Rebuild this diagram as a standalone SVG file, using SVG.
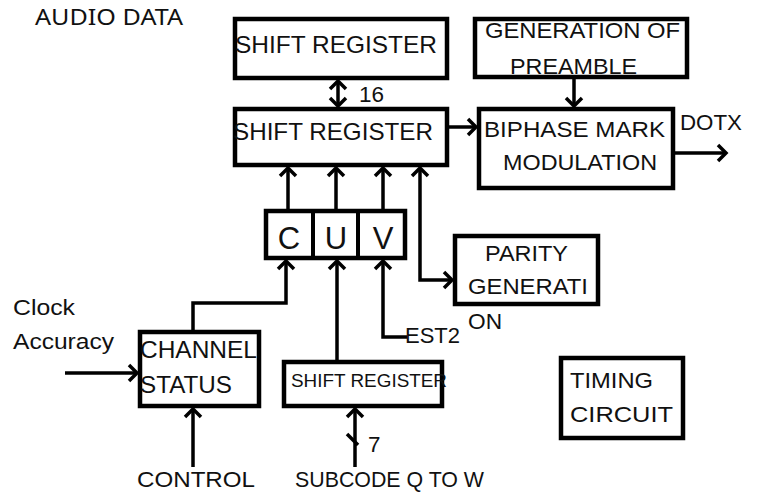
<svg xmlns="http://www.w3.org/2000/svg" width="760" height="495" viewBox="0 0 760 495">
<style>
  .box { fill: #fff; stroke: #000; stroke-width: 4.5; }
  .t { font-family: "Liberation Sans", Arial, sans-serif; font-size: 22.5px; fill: #111; }
  .big { font-size: 24px; }
  .cuv { font-size: 31px; text-anchor: middle; }
  .w { stroke: #000; stroke-width: 3.5; fill: none; }
</style>
<defs>
  <marker id="ah" markerUnits="userSpaceOnUse" viewBox="-12 -12 24 24" markerWidth="24" markerHeight="24" refX="0" refY="0" orient="auto-start-reverse">
    <path d="M-8,-8 L0,0 L-8,8" fill="none" stroke="#000" stroke-width="3.5"/>
  </marker>
</defs>
<rect width="760" height="495" fill="#fff"/>

<text class="t" x="35" y="25" textLength="148" lengthAdjust="spacingAndGlyphs" style="font-family:'Noto Sans','DejaVu Sans',sans-serif;font-size:21px">AUDIO DATA</text>

<g id="connectors">
  <line class="w" x1="338" y1="81" x2="338" y2="106" marker-start="url(#ah)" marker-end="url(#ah)"/>
  <line class="w" x1="449" y1="127" x2="476" y2="127" marker-end="url(#ah)"/>
  <line class="w" x1="574" y1="79" x2="574" y2="106" marker-end="url(#ah)"/>
  <line class="w" x1="675" y1="153" x2="726" y2="153" marker-end="url(#ah)"/>
  <line class="w" x1="288" y1="209" x2="288" y2="168" marker-end="url(#ah)"/>
  <line class="w" x1="336" y1="209" x2="336" y2="168" marker-end="url(#ah)"/>
  <line class="w" x1="383" y1="209" x2="383" y2="168" marker-end="url(#ah)"/>
  <path class="w" d="M420,168 V280 H452" marker-start="url(#ah)" marker-end="url(#ah)"/>
  <path class="w" d="M193,330 V303 H286 V261" marker-end="url(#ah)"/>
  <line class="w" x1="337" y1="360" x2="337" y2="261" marker-end="url(#ah)"/>
  <path class="w" d="M407,337 H383 V261" marker-end="url(#ah)"/>
  <line class="w" x1="65" y1="373" x2="137" y2="373" marker-end="url(#ah)"/>
  <line class="w" x1="193" y1="467" x2="193" y2="409" marker-end="url(#ah)"/>
  <line class="w" x1="355" y1="467" x2="355" y2="409" marker-end="url(#ah)"/>
  <line class="w" x1="347" y1="434" x2="358" y2="445"/>
</g>

<text class="t" x="359" y="102">16</text>
<text class="t" x="680" y="130" textLength="62" lengthAdjust="spacingAndGlyphs">DOTX</text>
<text class="t" x="13" y="315" textLength="62" lengthAdjust="spacingAndGlyphs">Clock</text>
<text class="t" x="13" y="349" textLength="101" lengthAdjust="spacingAndGlyphs">Accuracy</text>
<text class="t" x="405" y="343" textLength="55" lengthAdjust="spacingAndGlyphs">EST2</text>
<text class="t" x="368" y="452">7</text>
<text class="t" x="137" y="487" textLength="118" lengthAdjust="spacingAndGlyphs">CONTROL</text>
<text class="t" x="295" y="487" textLength="189" lengthAdjust="spacingAndGlyphs">SUBCODE Q TO W</text>

<g id="shift1">
  <rect class="box" x="235" y="19" width="212" height="59"/>
  <text class="t big" x="235" y="53" textLength="202" lengthAdjust="spacingAndGlyphs">SHIFT REGISTER</text>
</g>
<g id="shift2">
  <rect class="box" x="235" y="109" width="212" height="56"/>
  <text class="t big" x="233" y="140" textLength="200" lengthAdjust="spacingAndGlyphs">SHIFT REGISTER</text>
</g>
<g id="preamble">
  <rect class="box" x="475" y="19" width="212" height="58"/>
  <text class="t" x="485" y="38" textLength="195" lengthAdjust="spacingAndGlyphs">GENERATION OF</text>
  <text class="t" x="510" y="74" textLength="127" lengthAdjust="spacingAndGlyphs">PREAMBLE</text>
</g>
<g id="biphase">
  <rect class="box" x="479" y="109" width="194" height="79"/>
  <text class="t" x="484" y="137" textLength="181" lengthAdjust="spacingAndGlyphs">BIPHASE MARK</text>
  <text class="t" x="503" y="170" textLength="154" lengthAdjust="spacingAndGlyphs">MODULATION</text>
</g>
<g id="cuv">
  <rect class="box" x="266" y="211" width="139" height="47"/>
  <line class="w" x1="313" y1="211" x2="313" y2="258" style="stroke-width:4"/>
  <line class="w" x1="358" y1="211" x2="358" y2="258" style="stroke-width:4"/>
  <text class="t cuv" x="289" y="249">C</text>
  <text class="t cuv" x="336" y="249">U</text>
  <text class="t cuv" x="383" y="249">V</text>
</g>
<g id="parity">
  <rect class="box" x="455" y="236" width="143" height="68"/>
  <text class="t" x="485" y="261" textLength="83" lengthAdjust="spacingAndGlyphs">PARITY</text>
  <text class="t" x="468" y="294" textLength="120" lengthAdjust="spacingAndGlyphs">GENERATI</text>
  <text class="t" x="468" y="329" textLength="34" lengthAdjust="spacingAndGlyphs">ON</text>
</g>
<g id="timing">
  <rect class="box" x="561" y="358" width="122" height="80"/>
  <text class="t" x="570" y="388" textLength="83" lengthAdjust="spacingAndGlyphs">TIMING</text>
  <text class="t" x="570" y="422" textLength="103" lengthAdjust="spacingAndGlyphs">CIRCUIT</text>
</g>
<g id="channel">
  <rect class="box" x="140" y="332" width="119" height="74"/>
  <text class="t big" x="140" y="358" textLength="117" lengthAdjust="spacingAndGlyphs">CHANNEL</text>
  <text class="t big" x="140" y="393" textLength="92" lengthAdjust="spacingAndGlyphs">STATUS</text>
</g>
<g id="shift3">
  <rect class="box" x="284" y="362" width="158" height="44"/>
  <text class="t" x="291" y="387" textLength="156" lengthAdjust="spacingAndGlyphs" style="font-size:19px">SHIFT REGISTER</text>
</g>
</svg>
